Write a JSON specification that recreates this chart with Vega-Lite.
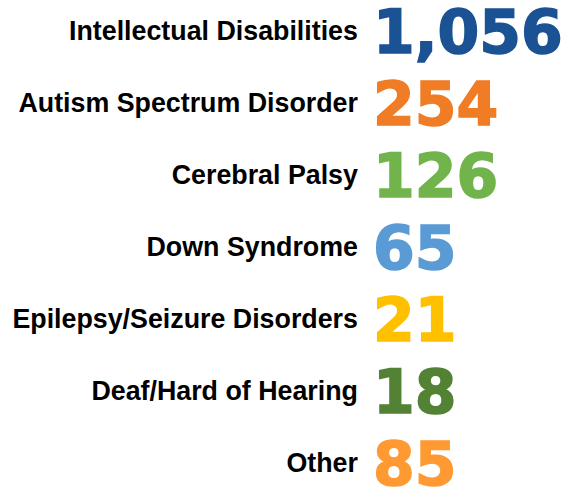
{
  "$schema": "https://vega.github.io/schema/vega-lite/v6.json",
  "width": 582,
  "height": 432,
  "padding": {"top": 31, "bottom": 24, "left": 0, "right": 0},
  "autosize": {"type": "none"},
  "background": "white",
  "config": {"view": {"stroke": null}},
  "data": {
    "values": [
      {"category": "Intellectual Disabilities", "count": "1,056", "color": "c1"},
      {"category": "Autism Spectrum Disorder", "count": "254", "color": "c2"},
      {"category": "Cerebral Palsy", "count": "126", "color": "c3"},
      {"category": "Down Syndrome", "count": "65", "color": "c4"},
      {"category": "Epilepsy/Seizure Disorders", "count": "21", "color": "c5"},
      {"category": "Deaf/Hard of Hearing", "count": "18", "color": "c6"},
      {"category": "Other", "count": "85", "color": "c7"}
    ]
  },
  "encoding": {
    "y": {
      "field": "category",
      "type": "nominal",
      "sort": null,
      "scale": {"type": "point", "padding": 0},
      "axis": null
    }
  },
  "layer": [
    {
      "mark": {"type": "text", "align": "right", "baseline": "alphabetic", "dy": 8.5, "font": "Liberation Sans", "fontWeight": "bold", "fontSize": 26.8, "color": "#000000"},
      "encoding": {
        "x": {"datum": 61.5, "type": "quantitative", "scale": {"domain": [0, 100]}, "axis": null},
        "text": {"field": "category"}
      }
    },
    {
      "mark": {"type": "text", "align": "left", "baseline": "alphabetic", "dy": 22, "font": "DejaVu Sans", "fontWeight": "bold", "fontSize": 60, "strokeWidth": 1.6},
      "encoding": {
        "x": {"datum": 64.1, "type": "quantitative"},
        "text": {"field": "count"},
        "fill": {
          "field": "color",
          "type": "nominal",
          "scale": {
            "domain": ["c1", "c2", "c3", "c4", "c5", "c6", "c7"],
            "range": ["#1A5294", "#F07C26", "#71B44C", "#5B9BD5", "#FFC000", "#548235", "#FF9A33"]
          },
          "legend": null
        },
        "stroke": {
          "field": "color",
          "type": "nominal",
          "scale": {
            "domain": ["c1", "c2", "c3", "c4", "c5", "c6", "c7"],
            "range": ["#1A5294", "#F07C26", "#71B44C", "#5B9BD5", "#FFC000", "#548235", "#FF9A33"]
          },
          "legend": null
        }
      }
    }
  ]
}
